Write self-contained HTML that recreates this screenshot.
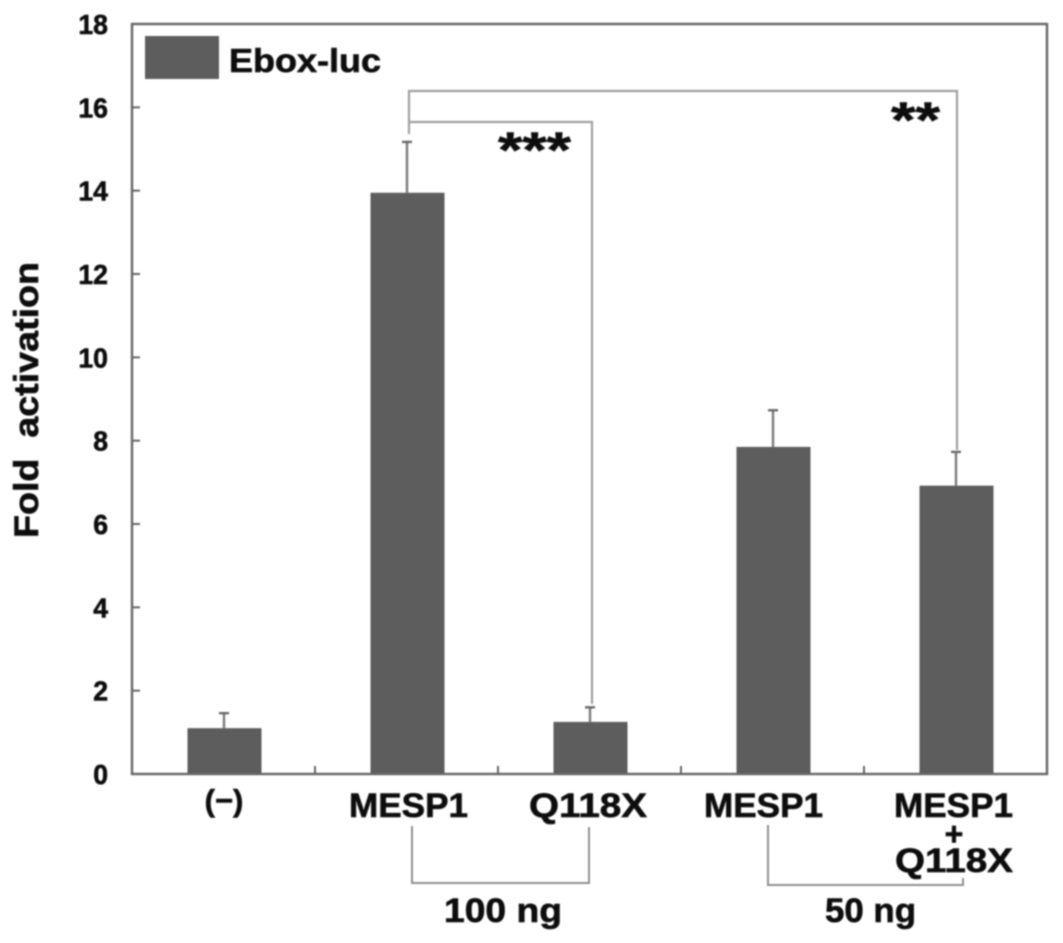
<!DOCTYPE html>
<html lang="en">
<head>
<meta charset="utf-8">
<title>Fold activation chart</title>
<style>
html,body{margin:0;padding:0;background:#fff;width:1063px;height:943px;overflow:hidden}
svg{display:block}
text{font-family:"Liberation Sans",Arial,sans-serif;font-weight:bold;fill:#0c0c0c;stroke:#0c0c0c;stroke-width:0.6px}
</style>
</head>
<body>
<svg id="chart" xmlns="http://www.w3.org/2000/svg" width="1063" height="943" viewBox="0 0 1063 943">
  <defs><filter id="soft" x="-5%" y="-5%" width="110%" height="110%"><feGaussianBlur stdDeviation="0.7"/></filter></defs>
  <g id="root" filter="url(#soft)"></g>
</svg>
<script>
const categories = ["(−)", "MESP1", "Q118X", "MESP1", "MESP1 + Q118X"];
const foldValues = [1.1, 13.95, 1.25, 7.85, 6.92];
const errorValues = [0.36, 1.22, 0.35, 0.88, 0.81];
const yTickLabels = [0, 2, 4, 6, 8, 10, 12, 14, 16, 18];
const yAxisMax = 18;
const legendLabel = "Ebox-luc";

const plotLeft = 132, plotRight = 1047, plotTop = 24, plotBottom = 774;
const barWidth = 74;
const root = document.getElementById('root');
const NS = 'http://www.w3.org/2000/svg';

function yScale(v) { return plotBottom - (v / yAxisMax) * (plotBottom - plotTop); }
function xBand(i) { return plotLeft + (i + 0.5) * (plotRight - plotLeft) / categories.length; }
function xEdge(i) { return plotLeft + i * (plotRight - plotLeft) / categories.length; }

function make(tag, attrs) {
  const el = document.createElementNS(NS, tag);
  for (const k in attrs) el.setAttribute(k, attrs[k]);
  root.appendChild(el);
  return el;
}
function stroke(color, width) { return { stroke: color, 'stroke-width': width, fill: 'none' }; }

// bars and error bars
foldValues.forEach((v, i) => {
  const cx = xBand(i);
  const top = yScale(v);
  const errTop = yScale(v + errorValues[i]);
  const stem = make('line', Object.assign({ x1: cx + 0.5, x2: cx + 0.5, y1: top, y2: errTop }, stroke('#7a7a7a', 2.4)));
  
  
  const cap = make('line', Object.assign({ x1: cx - 4.5, x2: cx + 5.5, y1: errTop, y2: errTop }, stroke('#6a6a6a', 2.4)));
  
  
  const bar = make('rect', { x: cx + 1 - barWidth / 2, y: top, width: barWidth, height: plotBottom - top, fill: '#5d5d5d' });
  
  
});

// plot frame
const frame = make('rect', Object.assign({ x: plotLeft, y: plotTop, width: plotRight - plotLeft, height: plotBottom - plotTop }, stroke('#666666', 2.4)));



// y ticks and labels
yTickLabels.forEach((t) => {
  const y = yScale(t);
  if (t > 0 && t < yAxisMax) {
    const tick = make('line', Object.assign({ x1: plotLeft, x2: plotLeft + 8, y1: y, y2: y }, stroke('#666666', 2)));
    
    
  }
  const label = make('text', { x: 108, y: y + 10, 'text-anchor': 'end', 'font-size': 28, textLength: String(t).length * 14.8, lengthAdjust: 'spacingAndGlyphs' });
  label.textContent = t;
  
  
});

// x ticks between categories
categories.forEach((c, i) => {
  if (i === 0) return;
  const x = xEdge(i);
  const tick = make('line', Object.assign({ x1: x, x2: x, y1: plotBottom, y2: plotBottom - 8 }, stroke('#666666', 2)));
  
  
});

// legend
const swatch = make('rect', { x: 145, y: 36, width: 74, height: 43, fill: '#5d5d5d' });


const legendText = make('text', { x: 229, y: 72, 'font-size': 33, textLength: 152, lengthAdjust: 'spacingAndGlyphs' });
legendText.textContent = legendLabel;



// y-axis title
const yTitle = make('text', { x: 0, y: 0, 'font-size': 34, 'text-anchor': 'middle', transform: 'translate(38,400) rotate(-90)', textLength: 276, lengthAdjust: 'spacingAndGlyphs' });
yTitle.textContent = 'Fold\u00a0\u00a0activation';



// category labels
const catLabel0 = make('text', { x: 224, y: 811, 'font-size': 31, 'text-anchor': 'middle' });
catLabel0.textContent = categories[0];


const catLabel1 = make('text', { x: 349, y: 817, 'font-size': 34, textLength: 119, lengthAdjust: 'spacingAndGlyphs' });
catLabel1.textContent = categories[1];


const catLabel2 = make('text', { x: 529, y: 817, 'font-size': 34, textLength: 118, lengthAdjust: 'spacingAndGlyphs' });
catLabel2.textContent = categories[2];


const catLabel3 = make('text', { x: 704, y: 817, 'font-size': 34, textLength: 119, lengthAdjust: 'spacingAndGlyphs' });
catLabel3.textContent = categories[3];


const comboParts = categories[4].split(' ');
const catLabel4a = make('text', { x: 894, y: 817, 'font-size': 34, textLength: 119, lengthAdjust: 'spacingAndGlyphs' });
catLabel4a.textContent = comboParts[0];


const catLabel4b = make('text', { x: 954, y: 845, 'font-size': 32, 'text-anchor': 'middle' });
catLabel4b.textContent = comboParts[1];


const catLabel4c = make('text', { x: 895, y: 872, 'font-size': 34, textLength: 118, lengthAdjust: 'spacingAndGlyphs' });
catLabel4c.textContent = comboParts[2];



// significance brackets
const sigOuter = make('path', Object.assign({ d: 'M409 134V91H957V450' }, stroke('#a0a0a0', 2.2)));


const sigInner = make('path', Object.assign({ d: 'M409 122H592V704' }, stroke('#a0a0a0', 2.2)));


const star3 = make('text', { x: 498, y: 167, 'font-size': 50, textLength: 73, lengthAdjust: 'spacingAndGlyphs' });
star3.textContent = '***';


const star2 = make('text', { x: 891, y: 137, 'font-size': 50, textLength: 49, lengthAdjust: 'spacingAndGlyphs' });
star2.textContent = '**';



// dose brackets
const dose100 = make('path', Object.assign({ d: 'M412 826V883H589V827' }, stroke('#909090', 2)));


const dose50 = make('path', Object.assign({ d: 'M768 825V885H963V878' }, stroke('#909090', 2)));


const dose100Label = make('text', { x: 444, y: 922, 'font-size': 34, textLength: 118, lengthAdjust: 'spacingAndGlyphs' });
dose100Label.textContent = '100 ng';


const dose50Label = make('text', { x: 825, y: 922, 'font-size': 34, textLength: 91, lengthAdjust: 'spacingAndGlyphs' });
dose50Label.textContent = '50 ng';


</script>
</body>
</html>
